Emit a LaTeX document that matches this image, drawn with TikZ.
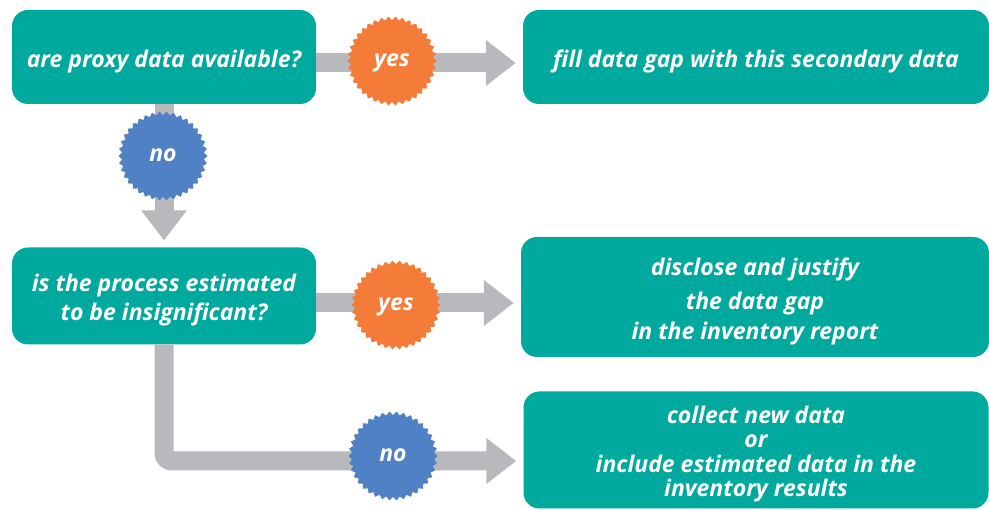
\documentclass[tikz,border=0pt]{standalone}
\usepackage{fontspec}
\setmainfont{Open Sans}
\usetikzlibrary{positioning,shapes.geometric,arrows.meta}
\definecolor{boxteal}{RGB}{0,169,157}
\definecolor{badgeorange}{RGB}{244,123,56}
\definecolor{badgeblue}{RGB}{79,129,196}
\definecolor{flowgray}{RGB}{184,185,188}
\newcommand{\boxlines}[1]{\raisebox{-5pt}[\height][\depth]{\begin{tabular}{@{}c@{}}#1\end{tabular}}}

\begin{document}
\begin{tikzpicture}[x=1pt,y=-1pt,
    stepbox/.style={rectangle, rounded corners=16pt, fill=boxteal, text=white, align=center, inner sep=0pt,
      font=\fontsize{23}{24}\selectfont\bfseries\itshape},
    badge/.style={star, star points=38, star point ratio=0.92, minimum size=82pt, inner sep=0pt, text=white,
      text height=12pt, text depth=0pt, font=\fontsize{23}{24}\selectfont\bfseries\itshape},
    flow/.style={draw=flowgray, line width=19pt, -{Triangle[width=44pt,length=30pt]}, shorten >=7pt}]
        \useasboundingbox (0,0) rectangle (989,510);
        % Boxes
        \node[stepbox, minimum width=304pt, minimum height=94pt] (proxy) at (164,57) {\boxlines{are proxy data available?}};
        \node[stepbox, minimum width=466pt, minimum height=94pt] (fill) at (756,57) {\boxlines{fill data gap with this secondary data}};
        \node[stepbox, minimum width=304pt, minimum height=97pt] (insignif) at (164,296) {\boxlines{is the process estimated\\[4pt] to be insignificant?}};
        \node[stepbox, minimum width=468pt, minimum height=120pt] (disclose) at (755,297) {\boxlines{disclose and justify\\[10pt] the data gap\\[5pt] in the inventory report}};
        \node[stepbox, minimum width=465pt, minimum height=117pt] (collect) at (756,450) {\boxlines{collect new data\\ or\\ include estimated data in the\\ inventory results}};
        
        % Arrows
        \draw[flow] ([yshift=-6pt]proxy.east) -- ([yshift=-6pt]proxy.east -| fill.west);
        \draw[flow] (proxy.south) -- (insignif.north);
        \draw[flow] ([yshift=-7pt]insignif.east) -- ([yshift=-7pt]insignif.east -| disclose.west);
        \draw[flow, rounded corners=8pt] (insignif.south) |- ([yshift=-11pt]collect.west);
        
        % Badges
        \node[badge, fill=badgeorange] (yes1) at (392,61) {yes};
        \node[badge, fill=badgeblue] (no1) at (163,156) {no};
        \node[badge, fill=badgeorange] (yes2) at (396,305) {yes};
        \node[badge, fill=badgeblue] (no2) at (393,456) {no};
\end{tikzpicture}
\end{document}
